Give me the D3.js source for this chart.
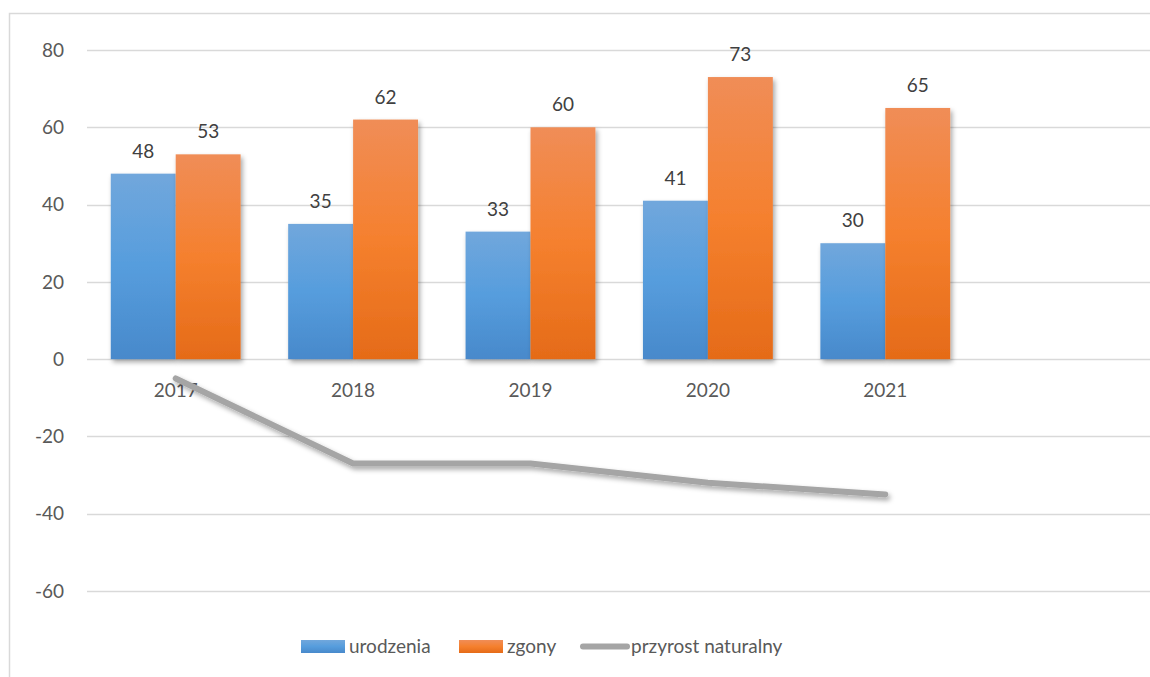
<!DOCTYPE html>
<html>
<head>
<meta charset="utf-8">
<script src="https://cdn.jsdelivr.net/npm/d3@7"></script>
<style>
  body { margin: 0; background: #fff; }
  svg text { font-family: Lato, "Open Sans", sans-serif; }
</style>
</head>
<body>
<div id="chart"></div>
<script>
// dane
const years = ["2017", "2018", "2019", "2020", "2021"];
const urodzenia = [48, 35, 33, 41, 30];
const zgony = [53, 62, 60, 73, 65];
const przyrost = [-5, -27, -27, -32, -35];
const yTicks = [-60, -40, -20, 0, 20, 40, 60, 80];
const seriesNames = ["urodzenia", "zgony", "przyrost naturalny"];

const width = 1150, height = 677;

const svg = d3.select("#chart").append("svg")
  .attr("width", width)
  .attr("height", height);

const defs = svg.append("defs");

// gradienty słupków
function grad(id, stops) {
  const g = defs.append("linearGradient").attr("id", id)
    .attr("x1", 0).attr("y1", 0).attr("x2", 0).attr("y2", 1);
  stops.forEach(s => g.append("stop").attr("offset", s[0]).attr("stop-color", s[1]));
}
grad("gBlue", [[0, "#71a7dc"], [0.5, "#569ddd"], [1, "#4889cb"]]);
grad("gOrange", [[0, "#f08d57"], [0.5, "#f5802e"], [1, "#e56b18"]]);

const shadow = defs.append("filter").attr("id", "shadow")
  .attr("x", "-20%").attr("y", "-20%").attr("width", "150%").attr("height", "150%");
shadow.append("feDropShadow")
  .attr("dx", 2).attr("dy", 3).attr("stdDeviation", 2.5)
  .attr("flood-color", "#000").attr("flood-opacity", 0.35);

// ramka wykresu
svg.append("rect")
  .attr("x", 9.5).attr("y", 13.5)
  .attr("width", 1300).attr("height", 800)
  .attr("fill", "none").attr("stroke", "#d9d9d9").attr("stroke-width", 1.5);

const y = d3.scaleLinear().domain([-60, 80]).range([591, 50]);

const x0 = d3.scaleBand().domain(years).range([87, 974])
  .paddingInner(0.268).paddingOuter(0.134);
const x1 = d3.scaleBand().domain(["urodzenia", "zgony"]).range([0, x0.bandwidth()]);

// linie siatki
svg.append("g")
  .selectAll("line")
  .data(yTicks)
  .join("line")
  .attr("x1", 87).attr("x2", width)
  .attr("y1", d => Math.round(y(d)) + 0.5)
  .attr("y2", d => Math.round(y(d)) + 0.5)
  .attr("stroke", "#d9d9d9").attr("stroke-width", 1.5);

// etykiety osi Y
svg.append("g")
  .selectAll("text")
  .data(yTicks)
  .join("text")
  .attr("x", 64)
  .attr("y", d => y(d))
  .attr("dy", "0.35em")
  .attr("text-anchor", "end")
  .attr("fill", "#595959")
  .style("font-size", "19px")
  .text(d => d);

// słupki
const rows = years.map((yr, i) => ({ year: yr, vals: [
  { key: "urodzenia", v: urodzenia[i], fill: "url(#gBlue)" },
  { key: "zgony", v: zgony[i], fill: "url(#gOrange)" }
] }));

const groups = svg.append("g").selectAll("g")
  .data(rows)
  .join("g")
  .attr("transform", d => `translate(${x0(d.year)},0)`);

groups.selectAll("rect")
  .data(d => d.vals)
  .join("rect")
  .attr("x", d => x1(d.key))
  .attr("y", d => y(d.v))
  .attr("width", x1.bandwidth())
  .attr("height", d => y(0) - y(d.v))
  .attr("fill", d => d.fill)
  .attr("filter", "url(#shadow)");

groups.selectAll("text")
  .data(d => d.vals)
  .join("text")
  .attr("x", d => x1(d.key) + x1.bandwidth() / 2)
  .attr("y", d => y(d.v) - 16)
  .attr("text-anchor", "middle")
  .attr("fill", "#404040")
  .style("font-size", "19px")
  .text(d => d.v);

// etykiety lat
svg.append("g")
  .selectAll("text")
  .data(years)
  .join("text")
  .attr("x", d => x0(d) + x0.bandwidth() / 2)
  .attr("y", 397)
  .attr("text-anchor", "middle")
  .attr("fill", "#595959")
  .style("font-size", "19px")
  .text(d => d);

// linia przyrostu
const line = d3.line()
  .x((d, i) => x0(years[i]) + x0.bandwidth() / 2)
  .y(d => y(d));

svg.append("path")
  .datum(przyrost)
  .attr("d", line)
  .attr("fill", "none")
  .attr("stroke", "#a5a5a5")
  .attr("stroke-width", 6)
  .attr("stroke-linecap", "round")
  .attr("stroke-linejoin", "round")
  .attr("filter", "url(#shadow)");

// legenda
const legend = svg.append("g");
const legItems = [
  { name: seriesNames[0], x: 301, type: "rect", fill: "url(#gBlue)" },
  { name: seriesNames[1], x: 459, type: "rect", fill: "url(#gOrange)" },
  { name: seriesNames[2], x: 583, type: "line" }
];
legItems.forEach(it => {
  if (it.type === "rect") {
    legend.append("rect")
      .attr("x", it.x).attr("y", 640)
      .attr("width", 44).attr("height", 13)
      .attr("fill", it.fill);
  } else {
    legend.append("line")
      .attr("x1", it.x).attr("x2", it.x + 44)
      .attr("y1", 646.5).attr("y2", 646.5)
      .attr("stroke", "#a5a5a5").attr("stroke-width", 6)
      .attr("stroke-linecap", "round");
  }
  legend.append("text")
    .attr("x", it.x + 48)
    .attr("y", 646)
    .attr("dy", "0.35em")
    .attr("fill", "#595959")
    .style("font-size", "19px")
    .text(it.name);
});
</script>
</body>
</html>
